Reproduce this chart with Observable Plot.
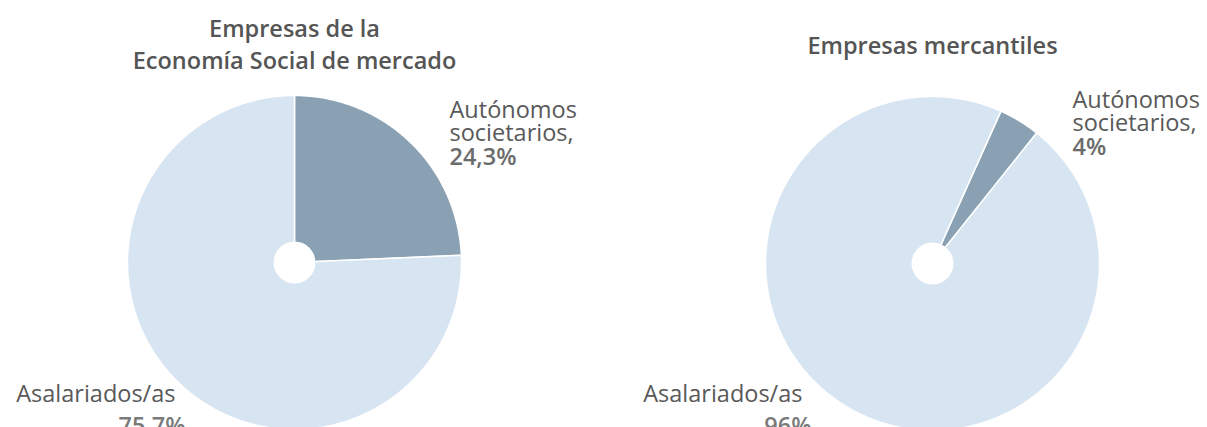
<!DOCTYPE html>
<html>
<head>
<meta charset="utf-8">
<script src="https://cdn.jsdelivr.net/npm/d3@7"></script>
<script src="https://cdn.jsdelivr.net/npm/@observablehq/plot@0.6"></script>
<style>
  html, body { margin: 0; padding: 0; background: #fff; }
  #chart { display: flex; width: 1207px; height: 427px; overflow: hidden; }
  #chart svg { display: block; font-family: "Open Sans", sans-serif; }
</style>
</head>
<body>
<div id="chart"></div>
<script>
// ---- data ----
const pieTitles = ["Empresas de la\nEconomía Social de mercado", "Empresas mercantiles"];
const categories = ["Autónomos societarios", "Asalariados/as"];
const categoryLabels = ["Autónomos\nsocietarios,", "Asalariados/as"];
const socialValues = [24.3, 75.7];
const mercantilValues = [4, 96];
const colors = ["#8aa1b4", "#d7e5f2"];

// ---- layout (not data) ----
const H = 427, R = 167;
const layouts = [
  { values: socialValues, width: 604, cx: 294, cy: 262, start: 0,
    topLabel: { dx: 155, dy: -162, pdy: -114 },
    bottomLabel: { dx: -119, dy: 123, pdx: -109, pdy: 155 },
    titleDy: 13 },
  { values: mercantilValues, width: 603, cx: 328, cy: 263, start: 24.2,
    topLabel: { dx: 140, dy: -173, pdy: -125 },
    bottomLabel: { dx: -130, dy: 122, pdx: -121, pdy: 154 },
    titleDy: 30 }
];

const fmt = v => String(v).replace(".", ",") + "%";

function slicePolygons(values, startDeg) {
  const a0 = startDeg * Math.PI / 180;
  const arcs = d3.pie().sort(null).startAngle(a0).endAngle(a0 + 2 * Math.PI)(values);
  const pts = [];
  arcs.forEach((a, i) => {
    const cat = categories[i];
    pts.push({ cat, x: 0, y: 0 });
    const n = Math.max(2, Math.ceil((a.endAngle - a.startAngle) / (Math.PI / 360)));
    for (let k = 0; k <= n; k++) {
      const t = a.startAngle + (a.endAngle - a.startAngle) * k / n;
      pts.push({ cat, x: Math.sin(t), y: Math.cos(t) });
    }
    pts.push({ cat, x: 0, y: 0 });
  });
  return pts;
}

pieTitles.forEach((title, p) => {
  const L = layouts[p];
  const pts = slicePolygons(L.values, L.start);
  const origin = [{ x: 0, y: 0 }];
  const plot = Plot.plot({
    width: L.width,
    height: H,
    margin: 0,
    x: { domain: [-L.cx / R, (L.width - L.cx) / R], axis: null },
    y: { domain: [-(H - L.cy) / R, L.cy / R], axis: null },
    color: { domain: categories, range: colors },
    marks: [
      Plot.line(pts, { x: "x", y: "y", z: "cat", fill: "cat", stroke: "white", strokeWidth: 1.5, curve: "linear" }),
      Plot.dot(origin, { x: "x", y: "y", r: 21, fill: "white", stroke: "none" }),
      Plot.text([title], { frameAnchor: "top", x: () => 0, dy: L.titleDy, lineAnchor: "top", text: d => d,
        fontSize: 23.5, fontWeight: 600, fill: "#555", lineHeight: 1.38, textAnchor: "middle" }),
      Plot.text(origin, { x: "x", y: "y", text: () => categoryLabels[0], dx: L.topLabel.dx, dy: L.topLabel.dy,
        textAnchor: "start", lineAnchor: "top", fontSize: 23.5, fill: "#595959", lineHeight: 1.02 }),
      Plot.text(origin, { x: "x", y: "y", text: () => fmt(L.values[0]), dx: L.topLabel.dx, dy: L.topLabel.pdy,
        textAnchor: "start", lineAnchor: "top", fontSize: 23.5, fontWeight: 600, fill: "#6b6b6b" }),
      Plot.text(origin, { x: "x", y: "y", text: () => categoryLabels[1], dx: L.bottomLabel.dx, dy: L.bottomLabel.dy,
        textAnchor: "end", lineAnchor: "top", fontSize: 23.5, fill: "#595959" }),
      Plot.text(origin, { x: "x", y: "y", text: () => fmt(L.values[1]), dx: L.bottomLabel.pdx, dy: L.bottomLabel.pdy,
        textAnchor: "end", lineAnchor: "top", fontSize: 23.5, fontWeight: 600, fill: "#7a7a7a" })
    ]
  });
  document.getElementById("chart").appendChild(plot);
});
</script>
</body>
</html>
